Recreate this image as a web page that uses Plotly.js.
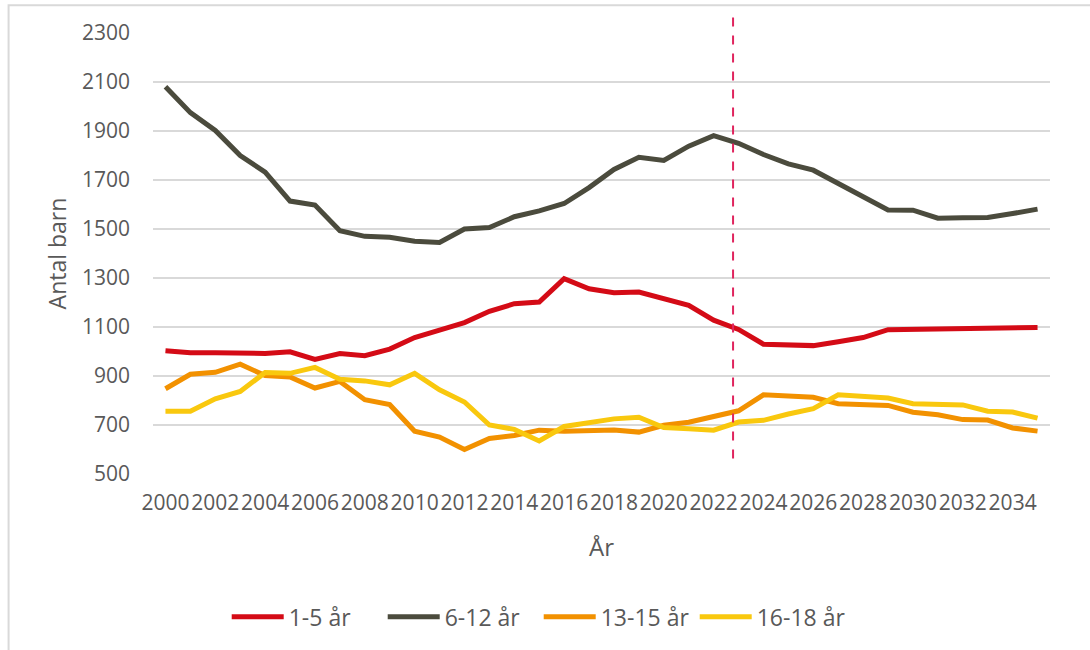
<!DOCTYPE html>
<html>
<head>
<meta charset="utf-8">
<script src="https://cdn.plot.ly/plotly-3.0.1.min.js"></script>
<style>html,body{margin:0;padding:0;background:#fff;}#chart{width:1090px;height:650px;}</style>
</head>
<body>
<div id="chart"></div>
<script>
const years = [2000,2001,2002,2003,2004,2005,2006,2007,2008,2009,2010,2011,2012,2013,2014,2015,2016,2017,2018,2019,2020,2021,2022,2023,2024,2025,2026,2027,2028,2029,2030,2031,2032,2033,2034,2035];
const age1to5 = [1003,995,995,994,992,999,968,992,983,1010,1057,1087,1118,1164,1195,1202,1297,1256,1240,1243,1218,1188,1128,1090,1030,1029,1024,1040,1057,1089,1090,1094,1097,1098,1098,1098];
const age6to12 = [2081,1975,1902,1800,1732,1614,1598,1493,1470,1466,1450,1445,1500,1506,1550,1574,1604,1669,1743,1793,1780,1838,1881,1850,1804,1766,1740,1685,1632,1578,1577,1544,1546,1547,1563,1581];
const age13to15 = [848,907,915,948,902,896,851,878,803,783,675,651,600,645,657,679,675,679,680,671,699,711,733,758,823,819,813,787,786,780,752,742,722,720,688,675];
const age16to18 = [756,756,807,837,914,911,935,887,880,864,911,844,794,700,682,635,694,708,725,732,690,685,679,712,719,745,767,823,819,810,787,786,782,756,753,728];
const seriesNames = ['1-5 år','6-12 år','13-15 år','16-18 år'];
const forecastStart = 2022.78;
const yTicks = [500,700,900,1100,1300,1500,1700,1900,2100,2300];

const colors = ['#D40B16','#4B4B3D','#F29100','#F9C80E'];
const allSeries = [age1to5, age6to12, age13to15, age16to18];
const traces = allSeries.map((ys,i)=>({
  x: years, y: ys, name: seriesNames[i], type:'scatter', mode:'lines',
  line:{color:colors[i], width:5}
}));

const fam = '"Open Sans", Lato, sans-serif';
const grey = '#595959';
const layout = {
  width:1090, height:650,
  margin:{l:153, r:40, t:33, b:173.5},
  paper_bgcolor:'#ffffff', plot_bgcolor:'#ffffff',
  font: {family:fam, color:grey, size:21},
  showlegend:true,
  legend:{orientation:'h', x:0.43, xanchor:'center', y:-0.324, yanchor:'middle',
          font:{family:fam, color:grey, size:23}, itemwidth:52, entrywidth:89, entrywidthmode:'pixels'},
  xaxis:{
    range:[1999.5,2035.5], tickmode:'linear', tick0:2000, dtick:2, tickangle:0,
    showgrid:false, zeroline:false, showline:false, ticks:'',
    tickfont:{family:fam, color:grey, size:21}, ticklabelstandoff:14,
    title:{text:'År', font:{family:fam, color:grey, size:24}, standoff:24}
  },
  yaxis:{
    range:[500,2300], tickmode:'array', tickvals:yTicks,
    showgrid:true, gridcolor:'#D9D9D9', gridwidth:1.5, zeroline:false, showline:false, ticks:'',
    tickfont:{family:fam, color:grey, size:21}, ticklabelstandoff:22,
    title:{text:'Antal barn', font:{family:fam, color:grey, size:23}, standoff:8}
  },
  shapes:[
    {type:'line', xref:'x', yref:'paper', x0:forecastStart, x1:forecastStart, y0:0.035, y1:1.045,
     line:{color:'#E0245E', width:2, dash:'dash'}},
    {type:'rect', xref:'paper', yref:'paper', x0:-0.161, x1:1.2, y0:-0.6, y1:1.063,
     line:{color:'#D9D9D9', width:2}, fillcolor:'rgba(0,0,0,0)', layer:'below'}
  ]
};
Plotly.newPlot('chart', traces, layout, {displayModeBar:false, staticPlot:true});
</script>
</body>
</html>
